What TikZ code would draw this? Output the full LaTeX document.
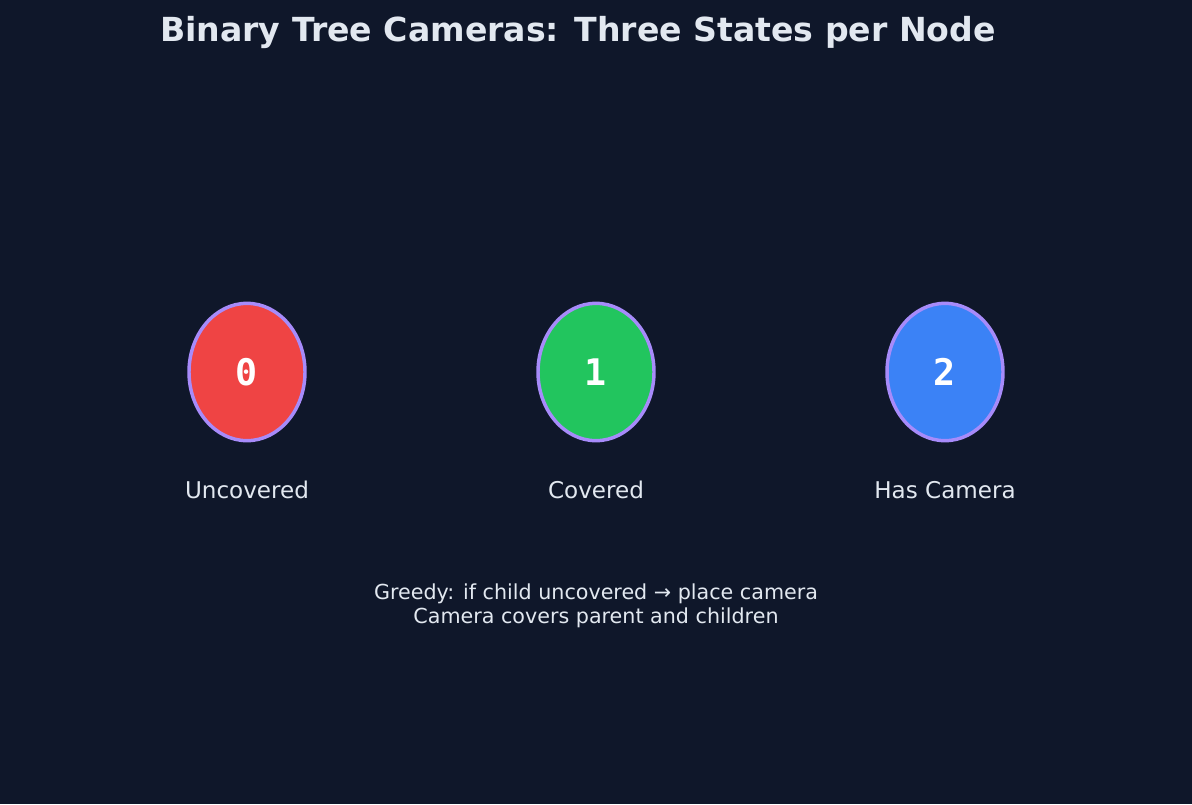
\documentclass[tikz,border=0pt]{standalone}
\usepackage{fontspec}
\setmainfont{DejaVu Sans}
\setmonofont{DejaVu Sans Mono}
\usetikzlibrary{shapes.geometric}
\definecolor{bgcol}{HTML}{0F172A}
\definecolor{txtcol}{HTML}{E2E8F0}
\definecolor{rimcol}{HTML}{A78BFA}
\definecolor{uncol}{HTML}{EF4444}
\definecolor{covcol}{HTML}{22C55E}
\definecolor{camcol}{HTML}{3B82F6}

\begin{document}
\begin{tikzpicture}[x=0.75pt,y=-0.75pt,
  state/.style={ellipse, draw=rimcol, line width=2.6pt, inner sep=0pt,
    minimum width=87pt, minimum height=103pt, text=white,
    font=\ttfamily\bfseries\fontsize{27.5}{30}\selectfont},
  caption/.style={text=txtcol, anchor=base, font=\fontsize{17.3}{20}\selectfont}]
\fill[bgcol] (0,0) rectangle (1192,804);

\node (title) at (578,41) [anchor=base, text=txtcol, font=\bfseries\fontsize{24.85}{28}\selectfont] {Binary Tree Cameras: Three States per Node};

\node (S0) at (247,372) [state, fill=uncol] {0};
\node (S1) at (596,372) [state, fill=covcol] {1};
\node (S2) at (945,372) [state, fill=camcol] {2};

\node (L0) at (247,498) [caption] {Uncovered};
\node (L1) at (596,498) [caption] {Covered};
\node (L2) at (945,498) [caption] {Has Camera};

\node (rule) at (596,606) [text=txtcol, align=center, font=\fontsize{15.5}{18}\selectfont] {Greedy: if child uncovered → place camera\\Camera covers parent and children};
\end{tikzpicture}
\end{document}
